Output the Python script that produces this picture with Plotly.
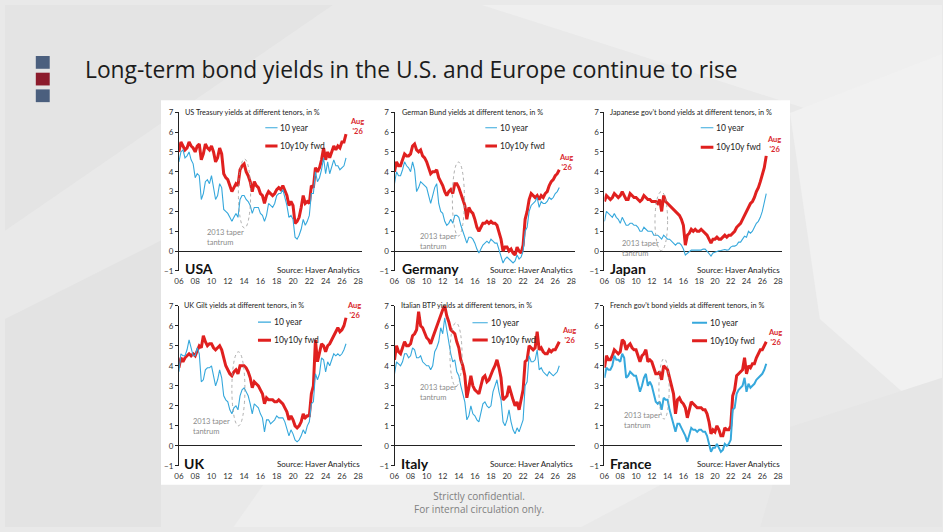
import plotly.graph_objects as go

W, H = 943, 532

# quarterly grid, Q1 2006 .. Q3 2026
quarters = [2006 + i / 4 for i in range(83)]

us_10y = [4.5, 5.0, 5.1, 4.7, 4.8, 5.0, 4.6, 4.4, 3.7, 3.9, 3.8, 2.6,
          2.9, 3.5, 3.6, 3.4, 3.8, 3.2, 2.6, 2.8, 3.4, 3.2, 2.1, 2.0,
          1.9, 1.7, 1.5, 1.7, 1.9, 1.7, 2.6, 2.8, 2.8, 2.6, 2.5, 2.3,
          1.9, 2.2, 2.2, 2.2, 1.9, 1.8, 1.5, 1.8, 2.4, 2.3, 2.2, 2.4,
          2.8, 2.9, 2.9, 3.1, 2.7, 2.3, 1.7, 1.8, 1.6, 0.7, 0.6, 0.8,
          1.1, 1.6, 1.3, 1.5, 1.8, 2.9, 2.9, 4.0, 3.5, 3.7, 4.1, 4.7,
          3.9, 4.5, 3.9, 4.2, 4.6, 4.3, 4.3, 4.1, 4.2, 4.3, 4.7]
us_fwd = [5.0, 5.5, 5.3, 5.1, 5.2, 5.5, 5.3, 5.2, 5.0, 5.3, 5.4, 4.6,
          4.9, 5.4, 5.2, 5.1, 5.3, 5.0, 4.5, 4.7, 5.2, 4.9, 3.9, 3.7,
          3.6, 3.3, 3.0, 3.2, 3.4, 3.3, 4.1, 4.3, 4.4, 4.0, 3.8, 3.5,
          3.0, 3.5, 3.3, 3.2, 2.9, 2.8, 2.4, 2.8, 3.0, 2.9, 2.8, 2.9,
          3.1, 3.2, 3.1, 3.3, 3.0, 2.8, 2.3, 2.5, 2.3, 1.4, 1.5, 1.7,
          2.2, 2.8, 2.4, 2.5, 2.4, 3.3, 3.2, 4.2, 4.0, 4.2, 4.6, 5.2,
          4.6, 5.0, 4.7, 5.0, 5.3, 5.1, 5.3, 5.2, 5.5, 5.5, 5.9]

de_10y = [3.4, 4.0, 3.8, 3.8, 4.1, 4.5, 4.3, 4.2, 4.0, 4.5, 4.1, 3.0,
          3.2, 3.5, 3.4, 3.3, 3.2, 2.8, 2.4, 2.8, 3.2, 3.4, 2.4, 2.0,
          1.9, 1.5, 1.3, 1.4, 1.6, 1.4, 1.8, 1.8, 1.7, 1.3, 1.0, 0.8,
          0.4, 0.7, 0.7, 0.6, 0.4, 0.1, -0.1, 0.1, 0.3, 0.4, 0.5, 0.4,
          0.6, 0.5, 0.4, 0.4, 0.1, -0.2, -0.6, -0.4, -0.3, -0.4, -0.5, -0.6,
          -0.5, -0.2, -0.4, -0.3, 0.0, 1.0, 1.2, 2.0, 2.3, 2.4, 2.5, 2.7,
          2.2, 2.5, 2.4, 2.4, 2.5, 2.7, 2.6, 2.7, 2.9, 3.0, 3.2]
de_fwd = [4.0, 4.5, 4.3, 4.3, 4.6, 4.9, 4.8, 4.8, 4.9, 5.3, 5.4, 5.1,
          5.0, 5.1, 4.8, 4.7, 4.5, 4.2, 3.9, 4.0, 4.0, 4.1, 3.7, 3.5,
          3.3, 3.0, 2.8, 3.0, 3.1, 2.9, 3.4, 3.4, 3.2, 2.9, 2.6, 2.3,
          1.6, 2.2, 2.0, 1.9, 1.6, 1.2, 1.0, 1.2, 1.4, 1.4, 1.5, 1.4,
          1.5, 1.4, 1.4, 1.3, 1.0, 0.6, 0.0, 0.2, 0.2, 0.0, 0.1, -0.1,
          -0.2, 0.2, 0.0, -0.1, 0.3, 1.6, 2.0, 2.6, 2.9, 2.8, 2.7, 2.8,
          2.6, 2.8, 2.7, 2.9, 3.0, 3.3, 3.5, 3.6, 3.8, 3.9, 4.1]

jp_10y = [1.5, 2.0, 1.9, 1.8, 1.7, 1.9, 1.7, 1.6, 1.4, 1.7, 1.5, 1.3,
          1.3, 1.4, 1.4, 1.3, 1.3, 1.2, 1.0, 1.0, 1.2, 1.1, 1.0, 1.0,
          1.0, 0.8, 0.8, 0.8, 0.7, 0.6, 0.8, 0.7, 0.6, 0.6, 0.5, 0.4,
          0.3, 0.4, 0.4, 0.3, 0.1, -0.2, -0.1, -0.05, 0.05, 0.05, 0.05, 0.05,
          0.05, 0.05, 0.1, 0.1, 0.0, -0.1, -0.25, -0.1, -0.05, 0.0, 0.02, 0.03,
          0.05, 0.08, 0.05, 0.07, 0.2, 0.25, 0.25, 0.3, 0.45, 0.45, 0.6, 0.75,
          0.7, 1.0, 0.9, 1.0, 1.2, 1.4, 1.5, 1.7, 2.0, 2.4, 2.9]
jp_fwd = [2.5, 2.8, 2.7, 2.6, 2.7, 2.9, 2.8, 2.7, 2.8, 3.0, 2.8, 2.6,
          2.6, 2.9, 2.8, 2.7, 2.7, 2.6, 2.5, 2.6, 2.8, 2.7, 2.6, 2.6,
          2.5, 2.5, 2.5, 2.4, 2.6, 2.0, 2.8, 2.5, 2.4, 2.3, 2.2, 2.1,
          2.0, 1.9, 1.8, 1.6, 1.3, 0.3, 0.8, 0.9, 1.1, 1.0, 1.1, 1.0,
          1.0, 1.1, 1.0, 0.9, 0.8, 0.6, 0.4, 0.6, 0.6, 0.7, 0.6, 0.6,
          0.7, 0.8, 0.7, 0.8, 0.8, 0.9, 1.0, 1.2, 1.3, 1.4, 1.6, 1.8,
          2.0, 2.2, 2.4, 2.5, 2.7, 3.0, 3.2, 3.5, 3.8, 4.2, 4.8]

uk_10y = [3.7, 4.6, 4.5, 4.5, 4.8, 5.3, 4.9, 4.5, 4.5, 4.9, 4.6, 3.2,
          3.3, 3.8, 3.9, 3.9, 4.0, 3.5, 3.0, 3.3, 3.8, 3.4, 2.5, 2.3,
          2.2, 1.8, 1.6, 1.9, 2.0, 1.8, 2.5, 2.8, 2.9, 2.7, 2.5, 2.1,
          1.6, 2.1, 2.0, 1.9, 1.6, 1.4, 0.7, 1.3, 1.3, 1.1, 1.2, 1.3,
          1.5, 1.4, 1.4, 1.4, 1.2, 0.9, 0.5, 0.8, 0.6, 0.3, 0.2, 0.3,
          0.5, 0.8, 0.6, 1.0, 1.2, 2.1, 2.2, 3.6, 3.3, 3.6, 4.4, 4.3,
          3.7, 4.2, 4.0, 4.3, 4.6, 4.5, 4.6, 4.5, 4.6, 4.8, 5.1]
uk_fwd = [3.9, 4.4, 4.2, 4.4, 4.5, 4.6, 4.5, 4.6, 4.5, 4.8, 5.0, 4.9,
          5.5, 5.2, 5.0, 5.1, 5.1, 4.9, 4.8, 4.9, 5.0, 4.8, 4.4, 4.0,
          3.8, 3.6, 3.5, 3.7, 3.8, 3.6, 4.0, 4.0, 4.0, 3.9, 3.7, 3.4,
          2.9, 3.2, 3.1, 3.0, 2.8, 2.6, 2.1, 2.4, 2.3, 2.3, 2.3, 2.2,
          2.2, 2.3, 2.2, 2.1, 1.9, 1.7, 1.3, 1.5, 1.3, 1.0, 0.9, 1.0,
          1.2, 1.6, 1.4, 1.5, 1.5, 2.6, 3.0, 5.3, 4.2, 4.6, 5.1, 5.0,
          4.7, 5.0, 5.1, 5.3, 5.5, 5.7, 5.9, 5.7, 5.8, 6.0, 6.4]

it_10y = [3.6, 4.2, 4.1, 4.0, 4.2, 4.6, 4.6, 4.4, 4.5, 4.9, 4.8, 4.4,
          4.4, 4.5, 4.2, 4.1, 4.0, 4.0, 3.8, 4.0, 4.7, 4.9, 5.2, 5.9,
          5.6, 6.4, 5.8, 5.0, 4.6, 4.2, 4.3, 3.7, 3.5, 3.0, 2.6, 2.2,
          1.3, 1.5, 2.0, 1.6, 1.5, 1.3, 1.2, 1.6, 2.1, 2.2, 2.0, 1.9,
          2.0, 2.7, 3.0, 3.3, 2.7, 2.3, 1.2, 1.0, 1.3, 1.8, 1.2, 0.8,
          0.6, 0.9, 0.7, 1.0, 1.3, 3.0, 3.2, 4.5, 4.2, 4.2, 4.3, 4.8,
          3.8, 3.9, 3.7, 3.6, 3.5, 3.7, 3.6, 3.5, 3.6, 3.7, 4.0]
it_fwd = [4.3, 5.0, 4.7, 4.6, 4.9, 5.2, 5.0, 5.0, 5.1, 5.5, 5.6, 5.8,
          6.7, 6.0, 5.9, 5.6, 5.4, 5.3, 5.1, 5.4, 5.7, 5.9, 6.3, 6.6,
          6.8, 7.0, 6.5, 6.2, 5.8, 5.7, 5.6, 5.2, 4.9, 4.3, 4.0, 3.5,
          2.4, 2.9, 3.5, 3.0, 2.8, 2.7, 2.6, 3.0, 3.4, 3.5, 3.2, 3.3,
          3.6, 3.8, 4.0, 4.3, 3.9, 3.4, 2.3, 2.4, 2.5, 3.0, 2.6, 2.3,
          2.0, 2.2, 1.8, 2.3, 2.8, 4.2, 4.3, 5.0, 4.9, 4.8, 4.9, 5.7,
          4.8, 4.9, 4.7, 4.6, 4.6, 4.8, 4.7, 4.8, 4.8, 5.0, 5.2]

fr_10y = [3.4, 3.9, 3.8, 3.8, 4.0, 4.5, 4.3, 4.3, 4.2, 4.6, 4.4, 3.4,
          3.5, 3.7, 3.6, 3.5, 3.5, 3.1, 2.7, 3.0, 3.4, 3.6, 3.0, 3.2,
          3.0, 2.6, 2.2, 2.1, 2.2, 1.8, 2.4, 2.3, 2.3, 1.8, 1.4, 1.0,
          0.7, 1.1, 1.1, 0.9, 0.7, 0.5, 0.2, 0.5, 0.9, 0.8, 0.8, 0.7,
          0.8, 0.8, 0.7, 0.7, 0.5, 0.1, -0.3, -0.1, -0.1, 0.1, -0.1, -0.3,
          -0.2, 0.1, 0.0, 0.1, 0.3, 1.8, 1.9, 2.6, 2.8, 2.9, 3.0, 3.4,
          2.7, 3.1, 2.9, 3.0, 3.1, 3.3, 3.4, 3.5, 3.6, 3.8, 4.1]
fr_fwd = [3.9, 4.5, 4.3, 4.3, 4.5, 4.8, 4.7, 4.6, 4.7, 5.3, 5.2, 4.8,
          5.0, 5.1, 4.9, 4.8, 4.8, 4.5, 4.2, 4.5, 4.6, 4.8, 4.2, 4.3,
          4.2, 3.9, 3.6, 3.6, 3.7, 3.3, 4.0, 3.9, 3.8, 3.4, 3.0, 2.6,
          1.6, 2.3, 2.4, 2.2, 2.1, 1.9, 1.4, 1.8, 2.2, 2.1, 2.0, 1.9,
          1.9, 1.9, 1.8, 1.8, 1.6, 1.2, 0.6, 0.8, 0.7, 1.0, 0.8, 0.5,
          0.5, 0.9, 0.8, 0.8, 1.0, 2.5, 2.8, 3.5, 3.6, 3.7, 3.8, 4.4,
          3.6, 4.0, 3.9, 4.1, 4.1, 4.4, 4.6, 4.8, 4.8, 5.0, 5.2]

year_ticks = list(range(2006, 2029, 2))
year_labels = ['%02d' % (y % 100) for y in year_ticks]

BLUE = '#36a8dc'
RED = '#e0201f'
PANEL_FONT = 'Lato'

# layout of panels in pixels
cols = [(175.0, 359.6), (392.0, 574.0), (603.3, 782.0)]
rows = [(109.3, 271.0), (306.5, 469.7)]

panels = [
    dict(country='USA', title='US Treasury yields at different tenors, in %',
         ten=us_10y, fwd=us_fwd, col=0, row=0, tx=2006.55,
         leg=(2016.6, 2018.1, 6.22, 5.3), aug=(2027.8, 6.27),
         taper=(2009.2, 0.7), ell=(2013.3, 2014.8, 4.64, 1.16), bw=1.1),
    dict(country='Germany', title='German Bund yields at different tenors, in %',
         ten=de_10y, fwd=de_fwd, col=1, row=0, tx=2006.7,
         leg=(2017.3, 2018.75, 6.22, 5.3), aug=(2027.3, 4.48),
         taper=(2008.9, 0.5), ell=(2013.2, 2014.7, 4.49, 0.76), bw=1.1),
    dict(country='Japan', title="Japanese gov't bond yields at different tenors, in %",
         ten=jp_10y, fwd=jp_fwd, col=2, row=0, tx=2006.4,
         leg=(2018.2, 2019.8, 6.22, 5.23), aug=(2027.5, 5.35),
         taper=(2008.0, 0.12), ell=(2012.4, 2014.0, 3.0, 0.02), bw=1.1),
    dict(country='UK', title='UK Gilt yields at different tenors, in %',
         ten=uk_10y, fwd=uk_fwd, col=0, row=1, tx=2006.4,
         leg=(2015.7, 2017.3, 6.18, 5.28), aug=(2027.5, 6.78),
         taper=(2007.5, 0.95), ell=(2012.5, 2014.1, 4.7, 1.0), bw=1.1),
    dict(country='Italy', title='Italian BTP yields at different tenors, in %',
         ten=it_10y, fwd=it_fwd, col=1, row=1, tx=2006.55,
         leg=(2015.7, 2017.6, 6.15, 5.29), aug=(2027.7, 5.52),
         taper=(2008.9, 2.68), ell=(2012.9, 2014.4, 6.15, 2.97), bw=1.1),
    dict(country='France', title="French gov't bond yields at different tenors, in %",
         ten=fr_10y, fwd=fr_fwd, col=2, row=1, tx=2006.4,
         leg=(2017.1, 2019.0, 6.15, 5.25), aug=(2027.6, 5.43),
         taper=(2008.2, 1.25), ell=(2012.9, 2014.2, 4.36, 1.34), bw=2.0),
]


def px_x(v):
    return v / W


def px_y(v):
    return 1 - v / H


fig = go.Figure()
shapes = []
annotations = []

# slide background facets
facets = [
    ([(0, 0), (330, 0), (0, 230)], '#e4e4e4'),
    ([(480, 0), (943, 0), (943, 150)], '#efefef'),
    ([(790, 110), (943, 50), (943, 430), (820, 320)], '#f1f1f1'),
    ([(0, 320), (157, 240), (157, 532), (0, 532)], '#e3e3e3'),
    ([(260, 489), (660, 489), (580, 532), (230, 532)], '#eeeeee'),
    ([(790, 430), (943, 380), (943, 532), (760, 532)], '#e6e6e6'),
]
for pts, col in facets:
    path = 'M ' + ' L '.join('%.4f,%.4f' % (px_x(a), px_y(b)) for a, b in pts) + ' Z'
    shapes.append(dict(type='path', xref='paper', yref='paper', path=path,
                       fillcolor=col, line=dict(width=0), layer='below'))

# white chart image
shapes.append(dict(type='rect', xref='paper', yref='paper', layer='below',
                   x0=px_x(157), x1=px_x(790), y0=px_y(489), y1=px_y(97),
                   fillcolor='white', line=dict(width=0)))

# slide icons
for top, col in [(52, '#4b5f7e'), (69, '#8c1b2c'), (86, '#4b5f7e')]:
    shapes.append(dict(type='rect', xref='paper', yref='paper',
                       x0=px_x(31), x1=px_x(45), y0=px_y(top + 13), y1=px_y(top),
                       fillcolor=col, line=dict(width=0)))

layout_axes = {}
for i, p in enumerate(panels):
    n = i + 1
    sx = '' if n == 1 else str(n)
    xr, yr = 'x' + sx, 'y' + sx
    c0, c1 = cols[p['col']]
    r0, r1 = rows[p['row']]

    fig.add_trace(go.Scatter(x=quarters, y=p['fwd'], mode='lines', xaxis=xr, yaxis=yr,
                             line=dict(color=RED, width=3), showlegend=False,
                             name='10y10y fwd'))
    fig.add_trace(go.Scatter(x=quarters, y=p['ten'], mode='lines', xaxis=xr, yaxis=yr,
                             line=dict(color=BLUE, width=p['bw']), showlegend=False,
                             name='10 year'))

    layout_axes['xaxis' + sx] = dict(
        domain=[px_x(c0), px_x(c1)], range=[2006, 2028.5], anchor=yr,
        tickvals=year_ticks, ticktext=year_labels, showgrid=False, zeroline=False,
        showline=False, ticks='', ticklabelstandoff=4,
        tickfont=dict(family=PANEL_FONT, size=8, color='#333'))
    layout_axes['yaxis' + sx] = dict(
        domain=[px_y(r1), px_y(r0)], range=[-1, 7], anchor=xr,
        tickvals=list(range(-1, 8)), showgrid=False, zeroline=True,
        zerolinecolor='#222', zerolinewidth=1, showline=True, linecolor='#222',
        linewidth=1, ticks='outside', ticklen=3, tickcolor='#222',
        tickfont=dict(family=PANEL_FONT, size=8, color='#333'))

    ref = dict(xref=xr, yref=yr)
    # legend keys
    lx0, lx1, ly_b, ly_r = p['leg']
    shapes.append(dict(type='line', x0=lx0, x1=lx1, y0=ly_b, y1=ly_b,
                       line=dict(color=BLUE, width=p['bw']), **ref))
    shapes.append(dict(type='line', x0=lx0, x1=lx1, y0=ly_r, y1=ly_r,
                       line=dict(color=RED, width=3), **ref))
    # taper tantrum ellipse
    ex0, ex1, ey1, ey0 = p['ell']
    shapes.append(dict(type='circle', x0=ex0, x1=ex1, y0=ey0, y1=ey1,
                       line=dict(color='#9a9a9a', width=0.8, dash='dot'), **ref))

    small = dict(family=PANEL_FONT, size=8, color='#222')
    annotations += [
        dict(x=p['tx'], y=7, text=p['title'], showarrow=False, xanchor='left',
             yanchor='middle', font=dict(family=PANEL_FONT, size=7.3, color='#222'), **ref),
        dict(x=lx1 + 0.1, y=ly_b, text='10 year', showarrow=False, xanchor='left',
             yanchor='middle', font=dict(family=PANEL_FONT, size=8.5, color='#222'), **ref),
        dict(x=lx1 + 0.1, y=ly_r, text='10y10y fwd', showarrow=False, xanchor='left',
             yanchor='middle', font=dict(family=PANEL_FONT, size=8.5, color='#222'), **ref),
        dict(x=p['aug'][0], y=p['aug'][1], text="<b>Aug<br>'26</b>", showarrow=False,
             xanchor='center', yanchor='middle',
             font=dict(family=PANEL_FONT, size=7.5, color='#d9262b'), **ref),
        dict(x=p['taper'][0], y=p['taper'][1], text='2013 taper<br>tantrum',
             showarrow=False, xanchor='left', yanchor='middle', align='left',
             font=dict(family=PANEL_FONT, size=7.5, color='#8a8a8a'), **ref),
        dict(x=p['tx'], y=-0.86, text='<b>%s</b>' % p['country'], showarrow=False,
             xanchor='left', yanchor='middle',
             font=dict(family=PANEL_FONT, size=14, color='#111'), **ref),
        dict(x=2028.45, y=-0.93, text='Source: Haver Analytics', showarrow=False,
             xanchor='right', yanchor='middle', font=small, **ref),
    ]

annotations += [
    dict(xref='paper', yref='paper', x=px_x(79), y=px_y(66),
         text='Long-term bond yields in the U.S. and Europe continue to rise',
         showarrow=False, xanchor='left', yanchor='middle',
         font=dict(family='Open Sans', size=22.8, color='#1c1c1c')),
    dict(xref='paper', yref='paper', x=px_x(477), y=px_y(507),
         text='Strictly confidential.<br>For internal circulation only.',
         showarrow=False, xanchor='center', yanchor='middle', align='center',
         font=dict(family='Open Sans', size=10, color='#808080')),
]

fig.update_layout(width=W, height=H, margin=dict(l=0, r=0, t=0, b=0),
                  paper_bgcolor='#e9e9e9', plot_bgcolor='rgba(0,0,0,0)',
                  shapes=shapes, annotations=annotations, **layout_axes)

fig.write_html('out.html', config={'displayModeBar': False},
               post_script="document.body.style.margin='0px';")
